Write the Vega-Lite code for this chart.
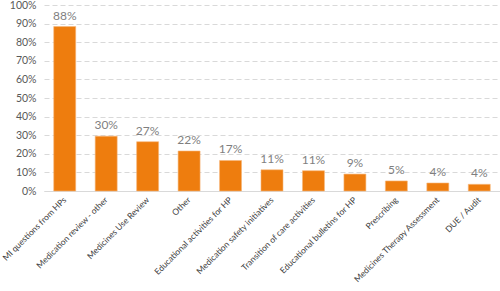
{
  "$schema": "https://vega.github.io/schema/vega-lite/v6.json",
  "width": 456,
  "height": 186,
  "autosize": {"type": "none"},
  "padding": {"left": 44, "top": 5, "right": 0, "bottom": 100},
  "background": "white",
  "config": {
    "view": {"stroke": null},
    "font": "Lato"
  },
  "data": {
    "values": [
      {"activity": "MI questions from HPs", "value": 0.884, "label": "88%"},
      {"activity": "Medication review - other", "value": 0.295, "label": "30%"},
      {"activity": "Medicines Use Review", "value": 0.265, "label": "27%"},
      {"activity": "Other", "value": 0.215, "label": "22%"},
      {"activity": "Educational activities for HP", "value": 0.164, "label": "17%"},
      {"activity": "Medication safety initiatives", "value": 0.114, "label": "11%"},
      {"activity": "Transition of care activities", "value": 0.109, "label": "11%"},
      {"activity": "Educational bulletins for HP", "value": 0.091, "label": "9%"},
      {"activity": "Prescribing", "value": 0.054, "label": "5%"},
      {"activity": "Medicines Therapy Assessment", "value": 0.043, "label": "4%"},
      {"activity": "DUE / Audit", "value": 0.036, "label": "4%"}
    ]
  },
  "encoding": {
    "x": {
      "field": "activity",
      "type": "nominal",
      "sort": null,
      "scale": {"paddingInner": 0.47, "paddingOuter": 0.235},
      "axis": {
        "title": null,
        "labelAngle": -45,
        "labelAlign": "right",
        "labelBaseline": "middle",
        "labelFontSize": 8.5,
        "labelColor": "#404040",
        "ticks": false,
        "domainColor": "#d9d9d9",
        "labelPadding": 7,
        "labelLimit": 200
      }
    },
    "y": {
      "field": "value",
      "type": "quantitative",
      "scale": {"domain": [0, 1]},
      "axis": {
        "title": null,
        "format": ".0%",
        "values": [0, 0.1, 0.2, 0.3, 0.4, 0.5, 0.6, 0.7, 0.8, 0.9, 1],
        "domain": false,
        "ticks": false,
        "labelFontSize": 10.5,
        "labelColor": "#595959",
        "labelPadding": 8,
        "gridColor": "#d9d9d9",
        "gridDash": [5, 3]
      }
    }
  },
  "layer": [
    {"mark": {"type": "bar", "color": "#ee7d0e", "stroke": "#f6b77a", "strokeWidth": 0.6}},
    {
      "mark": {"type": "text", "dy": -11, "fontSize": 12, "color": "#7f7f7f"},
      "encoding": {"text": {"field": "label"}}
    }
  ]
}
